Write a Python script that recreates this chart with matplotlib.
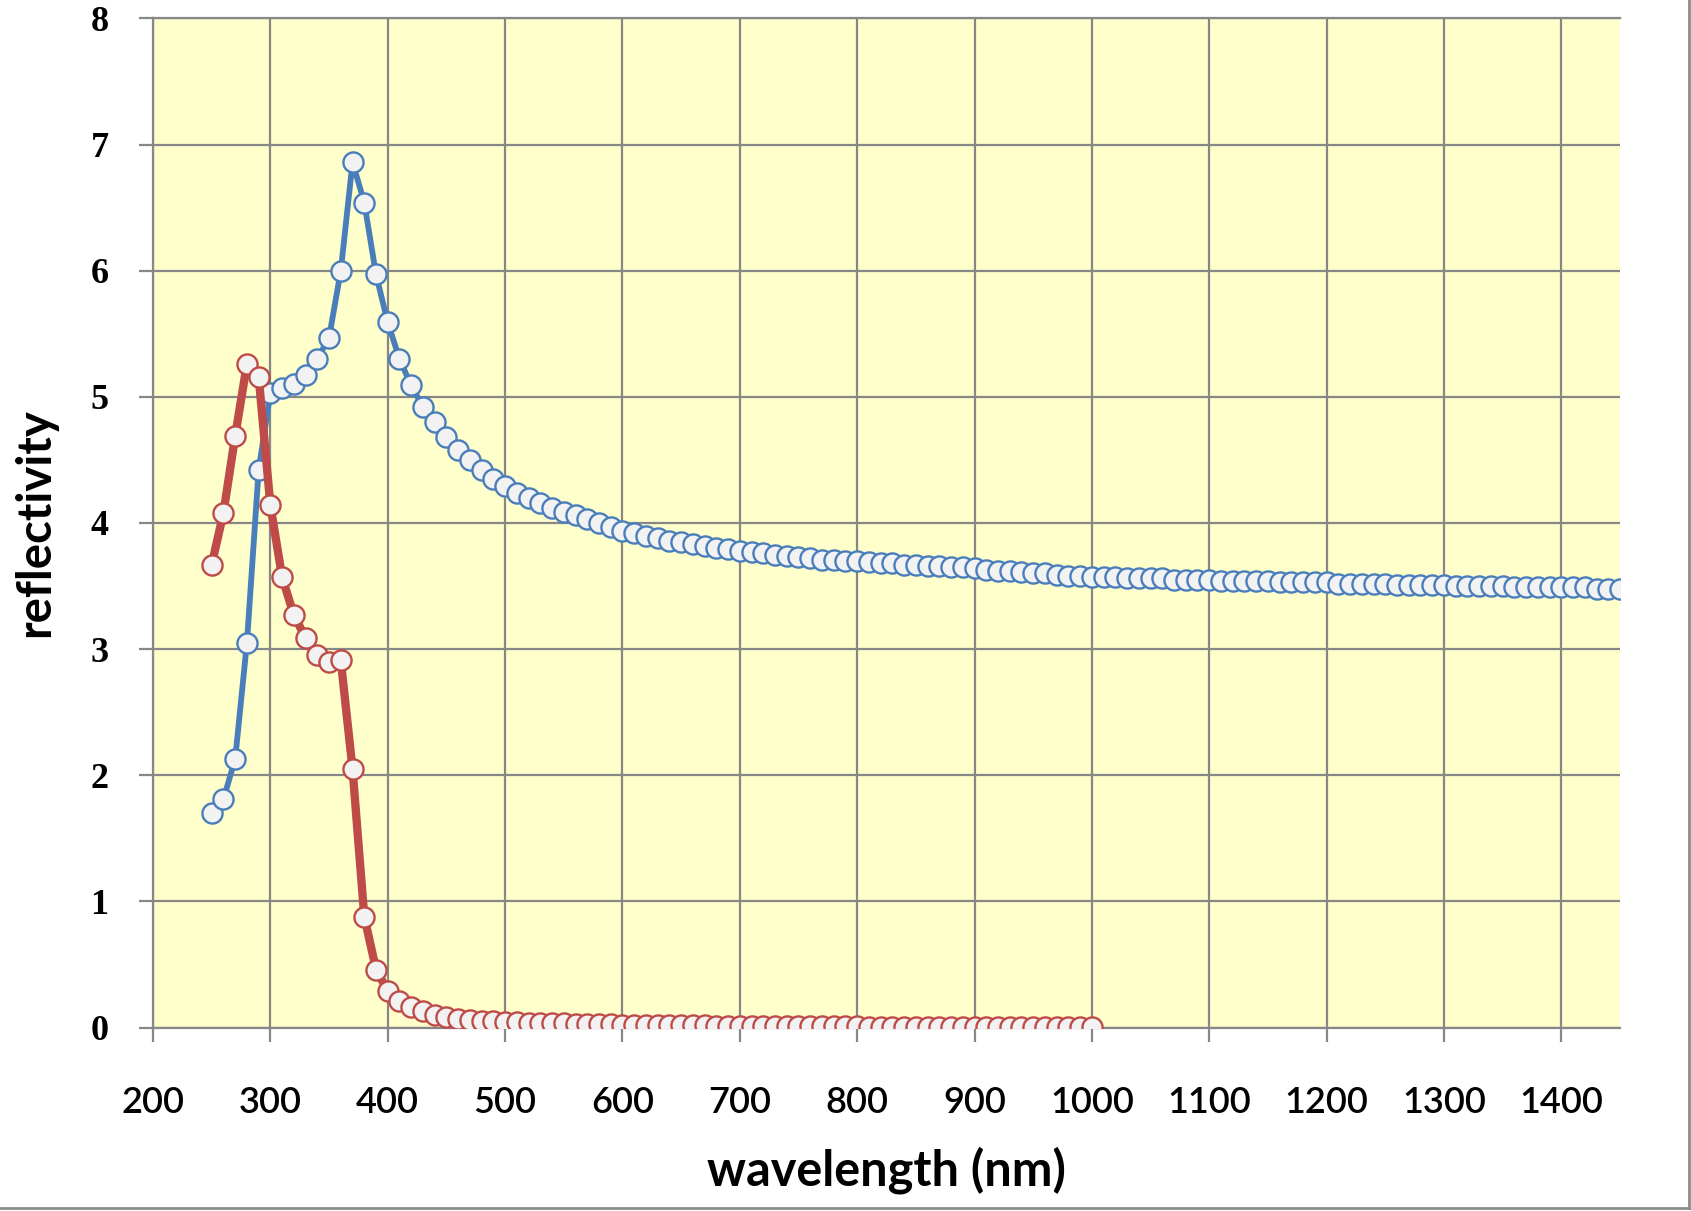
import matplotlib
matplotlib.use("Agg")
import matplotlib.pyplot as plt
from matplotlib.lines import Line2D

# Wavelength grids (nm)
wl_blue = list(range(250, 1451, 10))
wl_red = list(range(250, 1001, 10))

# Reflectivity of the first sample (250-1450 nm)
refl_blue = [
    1.70, 1.81, 2.13, 3.05, 4.42, 5.03, 5.07, 5.10, 5.17, 5.30,
    5.47, 6.00, 6.86, 6.54, 5.97, 5.59, 5.30, 5.09, 4.92, 4.80,
    4.68, 4.58, 4.50, 4.42, 4.35, 4.29, 4.24, 4.20, 4.16, 4.12,
    4.09, 4.06, 4.03, 4.00, 3.97, 3.94, 3.92, 3.90, 3.88, 3.86,
    3.85, 3.83, 3.82, 3.80, 3.79, 3.78, 3.77, 3.76, 3.75, 3.74,
    3.73, 3.72, 3.71, 3.71, 3.70, 3.70, 3.69, 3.68, 3.68, 3.67,
    3.67, 3.66, 3.66, 3.65, 3.65, 3.64, 3.63, 3.62, 3.62, 3.61,
    3.60, 3.60, 3.59, 3.58, 3.58, 3.57, 3.57, 3.57, 3.56, 3.56,
    3.56, 3.56, 3.55, 3.55, 3.55, 3.55, 3.54, 3.54, 3.54, 3.54,
    3.54, 3.53, 3.53, 3.53, 3.53, 3.53, 3.52, 3.52, 3.52, 3.52,
    3.52, 3.51, 3.51, 3.51, 3.51, 3.51, 3.50, 3.50, 3.50, 3.50,
    3.50, 3.49, 3.49, 3.49, 3.49, 3.49, 3.49, 3.49, 3.48, 3.48,
    3.48,
]

# Reflectivity of the second sample (250-1000 nm)
refl_red = [
    3.67, 4.08, 4.69, 5.26, 5.16, 4.14, 3.57, 3.27, 3.09, 2.95,
    2.90, 2.91, 2.05, 0.88, 0.46, 0.29, 0.21, 0.16, 0.13, 0.10,
    0.08, 0.07, 0.06, 0.055, 0.05, 0.045, 0.042, 0.039, 0.036, 0.034,
    0.032, 0.030, 0.028, 0.027, 0.025, 0.024, 0.023, 0.022, 0.021, 0.020,
    0.019, 0.018, 0.017, 0.016, 0.015, 0.015, 0.014, 0.013, 0.013, 0.012,
    0.011, 0.011, 0.010, 0.010, 0.009, 0.009, 0.008, 0.008, 0.008, 0.007,
    0.007, 0.007, 0.006, 0.006, 0.006, 0.005, 0.005, 0.005, 0.005, 0.004,
    0.004, 0.004, 0.004, 0.003, 0.003, 0.003,
]

x_ticks = list(range(200, 1401, 100))
y_ticks = list(range(0, 9))

BLUE = "#4A7EBB"
RED = "#BE4B48"
FACE = "#F2F2F2"
GRID = "#878787"
PLOT_BG = "#FFFFCC"

fig = plt.figure(figsize=(16.91, 12.11), dpi=100)
ax = fig.add_axes([0.0905, 0.1515, 0.8675, 0.8333])
ax.set_facecolor(PLOT_BG)

ax.plot(wl_blue, refl_blue, color=BLUE, lw=4.2, marker="o", ms=14.5,
        mfc=FACE, mec=BLUE, mew=1.7, zorder=3)
ax.plot(wl_red, refl_red, color=RED, lw=6.0, marker="o", ms=14.5,
        mfc=FACE, mec=RED, mew=1.7, zorder=4)

ax.set_xlim(200, 1450)
ax.set_ylim(0, 8)
ax.set_xticks(x_ticks)
ax.set_yticks(y_ticks)

ax.grid(True, color=GRID, lw=1.6, zorder=1)
ax.set_axisbelow(True)
for side in ("top", "right"):
    ax.spines[side].set_visible(False)
for side in ("left", "bottom"):
    ax.spines[side].set_color(GRID)
    ax.spines[side].set_linewidth(1.6)
ax.axhline(8, color=GRID, lw=1.6, clip_on=False, zorder=1)

ax.tick_params(axis="both", direction="out", length=10, width=1.6, color=GRID)
ax.tick_params(axis="x", pad=32)
ax.tick_params(axis="y", pad=22)

for lab in ax.get_xticklabels():
    lab.set_fontfamily(["Lato", "DejaVu Sans"])
    lab.set_fontsize(26)
    lab.set_fontweight("semibold")
for lab in ax.get_yticklabels():
    lab.set_fontfamily(["Liberation Serif", "DejaVu Serif"])
    lab.set_fontsize(26)
    lab.set_fontweight("bold")

ax.set_xlabel("wavelength (nm)", fontsize=35, fontweight="bold",
              family=["Lato", "DejaVu Sans"], labelpad=20)
ax.set_ylabel("reflectivity", fontsize=34, fontweight="bold",
              family=["Lato", "DejaVu Sans"], labelpad=24)

# Chart frame along the right and bottom edges
fig.add_artist(Line2D([1689 / 1691, 1689 / 1691], [1 - 1208 / 1211, 1.0],
                      transform=fig.transFigure, color="#8C8C8C", lw=2))
fig.add_artist(Line2D([0.0, 1689 / 1691], [1 - 1208 / 1211, 1 - 1208 / 1211],
                      transform=fig.transFigure, color="#8C8C8C", lw=2))

fig.savefig("out.png", dpi=100, facecolor="white")
